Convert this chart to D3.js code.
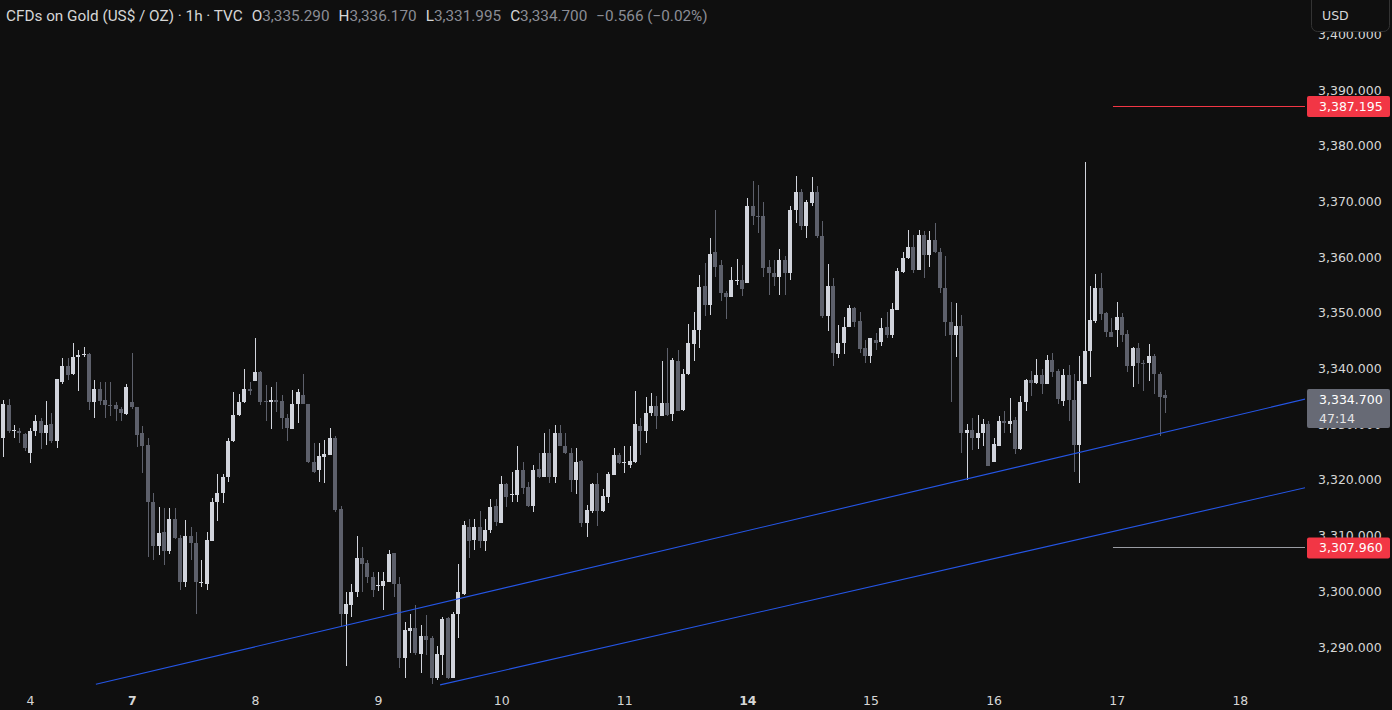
<!DOCTYPE html>
<html><head><meta charset="utf-8">
<script src="https://cdn.jsdelivr.net/npm/d3@7"></script>
<style>html,body{margin:0;padding:0;background:#0f0f0f;overflow:hidden}</style>
</head><body><svg id="c" width="1392" height="710"></svg>
<script>
// ---- data (hourly bars) ----
const opens = [3327.6,3333.4,3328.7,3328.7,3328.2,3324.9,3328.7,3330.6,3328.5,3330.0,3326.9,3337.5,3340.4,3339.0,3342.0,3342.4,3342.6,3334.0,3336.4,3334.3,3333.4,3333.4,3332.8,3331.9,3334.0,3333.0,3328.4,3326.3,3316.1,3308.1,3310.6,3307.3,3313.0,3309.5,3301.7,3309.9,3308.6,3301.6,3301.3,3309.1,3316.0,3317.6,3320.5,3327.0,3331.7,3333.9,3336.4,3337.8,3339.4,3334.2,3334.0,3334.3,3334.2,3331.1,3329.1,3333.6,3335.2,3333.6,3323.3,3321.7,3324.1,3324.5,3327.6,3314.7,3295.9,3297.6,3299.8,3305.9,3305.0,3302.5,3301.0,3301.0,3301.6,3306.8,3301.4,3288.1,3292.8,3293.5,3288.7,3292.0,3291.6,3284.5,3288.6,3295.2,3284.5,3295.9,3299.6,3311.6,3309.2,3311.5,3309.1,3311.0,3315.3,3312.3,3319.3,3317.3,3317.3,3321.8,3318.7,3315.3,3321.9,3320.6,3324.9,3320.6,3328.4,3326.1,3324.9,3319.9,3323.4,3312.3,3314.5,3319.3,3314.5,3317.0,3320.9,3324.5,3323.0,3322.7,3323.3,3329.7,3328.8,3332.1,3333.3,3331.5,3333.8,3331.9,3341.4,3332.5,3339.0,3344.4,3346.9,3354.8,3351.4,3361.0,3358.6,3353.6,3352.9,3355.8,3355.9,3355.4,3369.1,3367.3,3367.3,3358.3,3357.2,3356.5,3359.4,3357.2,3368.4,3371.6,3365.5,3369.8,3371.7,3363.8,3349.4,3354.8,3342.6,3344.6,3347.4,3350.8,3348.6,3343.6,3342.3,3345.2,3344.8,3347.4,3346.0,3350.5,3357.4,3359.8,3361.8,3357.7,3364.0,3360.4,3363.0,3361.0,3354.4,3348.4,3346.1,3347.6,3328.5,3329.0,3327.6,3328.4,3330.0,3323.3,3326.1,3330.6,3330.0,3330.8,3325.5,3333.9,3337.9,3337.4,3338.8,3337.2,3341.6,3339.6,3334.2,3338.8,3334.3,3326.3,3337.3,3343.2,3348.6,3354.4,3349.9,3346.6,3346.9,3349.2,3346.2,3340.4,3343.6,3341.0,3340.9,3342.3,3339.0,3335.29];
const highs = [3334.3,3334.5,3329.9,3329.3,3328.4,3329.3,3331.7,3331.1,3334.2,3332.1,3338.2,3341.8,3341.9,3344.6,3343.3,3343.8,3342.8,3337.9,3337.6,3337.6,3337.6,3334.0,3333.1,3337.2,3342.7,3333.1,3329.6,3327.5,3317.6,3315.2,3314.9,3314.9,3314.9,3310.1,3312.8,3311.6,3310.7,3305.6,3310.7,3316.7,3321.1,3321.1,3327.6,3335.7,3335.5,3340.0,3337.6,3345.4,3339.6,3337.0,3336.6,3337.6,3335.2,3331.9,3336.1,3336.3,3339.1,3333.7,3326.6,3326.7,3327.2,3329.4,3327.9,3315.3,3299.8,3301.3,3310.0,3307.9,3305.7,3303.5,3303.5,3303.5,3307.5,3306.9,3302.6,3294.5,3296.0,3297.5,3294.0,3295.7,3291.9,3290.2,3295.4,3295.4,3296.2,3304.9,3312.6,3312.9,3312.9,3314.5,3312.9,3316.5,3316.5,3320.7,3319.5,3321.5,3326.1,3323.3,3319.7,3322.7,3324.8,3328.4,3329.1,3329.9,3329.9,3328.4,3325.7,3325.7,3323.5,3315.5,3319.4,3321.2,3318.3,3321.5,3325.7,3324.9,3326.1,3326.1,3335.9,3331.1,3334.8,3335.6,3335.1,3341.4,3343.6,3341.8,3343.4,3339.9,3348.0,3350.2,3356.8,3359.0,3363.4,3368.5,3359.5,3354.0,3358.2,3359.6,3358.6,3370.7,3373.7,3373.0,3369.9,3359.4,3359.5,3361.4,3360.2,3369.2,3374.6,3372.2,3370.3,3374.4,3372.8,3366.4,3358.8,3356.2,3347.8,3349.3,3351.4,3351.1,3350.2,3345.2,3345.4,3346.3,3349.0,3350.2,3351.7,3358.0,3361.0,3364.8,3364.0,3364.8,3364.6,3364.6,3366.2,3361.6,3360.2,3352.0,3351.8,3349.6,3330.0,3331.2,3331.7,3330.9,3330.6,3327.5,3331.5,3332.4,3334.7,3331.3,3335.0,3338.2,3339.6,3341.7,3339.9,3342.4,3342.7,3339.9,3339.9,3340.6,3339.0,3342.3,3377.1,3354.8,3357.0,3357.2,3350.2,3349.0,3351.9,3349.9,3347.0,3343.9,3344.6,3341.5,3344.4,3342.6,3339.3,3336.17];
const lows = [3324.2,3328.4,3327.5,3326.6,3325.1,3323.1,3327.8,3325.5,3326.3,3326.6,3325.7,3337.3,3337.9,3338.8,3336.0,3342.1,3332.5,3331.1,3333.4,3331.1,3331.4,3330.5,3330.5,3331.6,3332.8,3325.9,3321.3,3306.2,3305.6,3306.5,3304.7,3306.7,3309.3,3300.2,3300.8,3305.6,3296.0,3300.8,3300.2,3309.0,3312.7,3315.8,3319.7,3326.8,3331.5,3333.8,3335.2,3337.7,3333.4,3330.6,3329.1,3332.2,3329.1,3326.9,3329.1,3330.2,3333.6,3323.0,3321.2,3319.7,3319.5,3324.4,3314.3,3293.8,3286.5,3295.4,3298.9,3299.9,3301.5,3298.9,3300.0,3296.6,3301.6,3298.9,3286.2,3284.4,3288.9,3288.6,3285.3,3288.6,3283.4,3284.1,3285.0,3284.2,3284.4,3291.6,3299.3,3305.9,3307.4,3307.7,3307.3,3310.4,3311.7,3312.3,3315.1,3316.1,3316.1,3317.5,3315.1,3314.3,3320.3,3320.5,3319.5,3319.5,3326.0,3324.6,3317.9,3317.5,3311.5,3309.7,3314.0,3311.7,3314.3,3315.9,3320.9,3322.9,3321.3,3322.1,3323.1,3324.5,3326.7,3331.5,3329.1,3331.4,3331.5,3330.6,3332.4,3332.4,3338.9,3341.4,3343.6,3349.4,3349.6,3356.4,3352.2,3348.8,3352.8,3355.0,3353.0,3355.3,3365.8,3364.3,3356.5,3353.2,3354.8,3353.2,3353.2,3355.9,3366.2,3364.9,3363.4,3369.2,3363.4,3349.0,3346.8,3340.5,3341.8,3342.6,3347.4,3347.5,3342.7,3340.9,3340.9,3343.3,3344.0,3345.4,3345.4,3350.5,3357.2,3359.6,3357.2,3357.7,3356.2,3358.2,3360.8,3353.6,3345.8,3333.9,3342.0,3324.9,3320.0,3325.4,3325.5,3326.1,3322.5,3323.3,3326.1,3328.5,3328.5,3324.7,3325.4,3332.4,3335.1,3337.3,3335.4,3337.2,3338.4,3333.6,3333.3,3330.5,3321.5,3319.4,3337.3,3338.5,3348.2,3348.7,3345.6,3345.6,3343.9,3344.8,3339.3,3336.7,3337.3,3335.9,3337.8,3335.5,3327.9,3331.995];
const closes = [3333.6,3328.7,3328.9,3328.4,3325.7,3328.8,3330.6,3328.4,3329.9,3326.9,3338.1,3340.4,3338.8,3342.0,3342.4,3342.6,3334.0,3336.4,3334.2,3333.4,3333.3,3332.7,3332.1,3336.6,3333.0,3328.1,3326.0,3316.1,3308.1,3310.4,3307.3,3313.0,3309.5,3301.7,3309.9,3308.6,3301.6,3301.7,3309.2,3316.0,3317.6,3320.5,3327.0,3331.7,3333.9,3336.4,3336.0,3339.4,3333.9,3333.9,3334.3,3334.0,3331.1,3329.3,3333.6,3335.7,3333.6,3323.3,3321.5,3324.3,3324.6,3327.6,3314.6,3295.9,3297.7,3299.8,3305.9,3304.9,3302.5,3300.2,3301.2,3301.8,3306.7,3301.4,3288.1,3293.1,3293.5,3289.0,3292.0,3291.3,3284.5,3288.7,3295.0,3284.5,3296.0,3299.8,3311.9,3309.1,3311.5,3309.1,3311.0,3315.1,3312.5,3319.3,3316.9,3317.5,3321.8,3318.5,3315.3,3321.8,3320.6,3324.9,3320.6,3328.4,3326.1,3324.8,3320.0,3323.3,3312.3,3314.6,3319.3,3314.5,3317.1,3321.1,3324.5,3323.0,3323.2,3323.4,3330.0,3328.8,3332.1,3333.2,3331.5,3333.8,3331.7,3341.5,3332.4,3339.0,3344.6,3347.0,3354.7,3351.4,3360.6,3358.3,3353.5,3352.8,3355.8,3355.9,3354.3,3369.1,3367.3,3367.2,3358.1,3357.1,3356.5,3359.4,3357.2,3368.5,3371.7,3365.5,3369.9,3371.7,3363.8,3349.4,3354.8,3342.7,3344.6,3347.5,3350.8,3348.4,3343.5,3342.3,3345.4,3344.6,3347.2,3346.0,3350.6,3357.5,3359.8,3361.8,3357.6,3364.0,3360.4,3363.1,3361.0,3354.4,3348.4,3346.1,3347.6,3328.5,3329.0,3327.6,3328.4,3330.0,3322.5,3326.5,3330.6,3330.2,3330.6,3325.5,3333.9,3337.9,3337.4,3338.8,3337.2,3341.6,3339.4,3334.5,3338.8,3334.3,3326.3,3337.8,3343.2,3348.7,3354.4,3349.8,3346.6,3345.6,3349.3,3346.0,3340.5,3343.6,3340.9,3340.8,3342.3,3339.1,3334.8,3334.70];

const dayLabels = ["4","7","8","9","10","11","14","15","16","17","18"];
const dayBars   = [5,24,47,70,93,116,139,162,185,208,231];
const boldDays  = ["7","14"];
const priceTicks = [3290,3300,3310,3320,3330,3340,3350,3360,3370,3380,3390,3400];

// trend lines: [barIndex, price] anchors
const upperTrend = [[17.3,3283.3],[243.2,3334.5]];
const lowerTrend = [[81.6,3283.2],[243.2,3318.6]];
// horizontal levels from bar 207.3 to the scale
const levels = [{price:3387.195, color:"#f23645", label:"3,387.195"},
                {price:3307.960, color:"#9a9ca3", label:"3,307.960"}];
const lastPrice = 3334.70, countdown = "47:14";
const header = {name:"CFDs on Gold (US$ / OZ) · 1h · TVC", O:"3,335.290", H:"3,336.170", L:"3,331.995", C:"3,334.700", chg:"−0.566 (−0.02%)"};

// ---- drawing ----
const svg = d3.select("#c");
const W = 1392, H = 710, plotRight = 1305, plotBottom = 688;
const UP = "#d1d4dc", DOWN = "#5d606b", TXT = "#d6d6d6";
svg.append("rect").attr("width",W).attr("height",H).attr("fill","#0f0f0f");

const x = d3.scaleLinear().domain([0,217]).range([3.3, 3.3+217*5.353]);
const y = d3.scaleLinear().domain([3290,3390]).range([647,90]);

const bars = opens.map((o,i)=>({i,o,h:highs[i],l:lows[i],c:closes[i]}));
const plot = svg.append("g");
plot.append("defs").append("clipPath").attr("id","pc").append("rect")
  .attr("x",0).attr("y",0).attr("width",plotRight).attr("height",plotBottom);
const pg = plot.append("g").attr("clip-path","url(#pc)");

const cg = pg.selectAll("g.k").data(bars).join("g")
  .attr("fill", d=>d.c>=d.o?UP:DOWN).attr("shape-rendering","crispEdges");
cg.append("rect").attr("x",d=>Math.round(x(d.i))).attr("width",1)
  .attr("y",d=>y(d.h)).attr("height",d=>Math.max(1,y(d.l)-y(d.h)));
cg.append("rect").attr("x",d=>Math.round(x(d.i))-2).attr("width",4)
  .attr("y",d=>y(Math.max(d.o,d.c))).attr("height",d=>Math.max(1,Math.abs(y(d.o)-y(d.c))));

const line = d3.line().x(d=>x(d[0])).y(d=>y(d[1]));
[upperTrend,lowerTrend].forEach(t=>{
  pg.append("path").attr("d",line(t)).attr("stroke","#2556e6").attr("stroke-width",1.1).attr("fill","none");
});
levels.forEach(l=>{
  pg.append("line").attr("x1",x(207.3)).attr("x2",plotRight).attr("y1",Math.round(y(l.price))+0.5).attr("y2",Math.round(y(l.price))+0.5)
    .attr("stroke",l.color).attr("stroke-width",1);
});

// price axis
const font = "DejaVu Sans, sans-serif";
const yAxis = d3.axisRight(y).tickValues(priceTicks).tickFormat(d3.format(",.3f")).tickSize(0).tickPadding(13);
const ya = svg.append("g").attr("transform",`translate(${plotRight},0)`).call(yAxis);
ya.select(".domain").remove();
ya.selectAll("text").attr("fill",TXT).attr("font-family",font).attr("font-size",12.5);

// time axis
const xAxis = d3.axisBottom(x).tickValues(dayBars).tickFormat((d,i)=>dayLabels[i]).tickSize(0).tickPadding(8);
const xa = svg.append("g").attr("transform",`translate(0,${plotBottom})`).call(xAxis);
xa.select(".domain").remove();
xa.selectAll("text").attr("fill",TXT).attr("font-family",font).attr("font-size",12.5)
  .attr("font-weight",(d,i)=>boldDays.includes(dayLabels[i])?"bold":"normal");

// labels on the price scale
levels.forEach(l=>{
  const yy = y(l.price);
  svg.append("rect").attr("x",1307).attr("y",yy-9.5).attr("width",83).attr("height",21).attr("rx",2).attr("fill","#f23645");
  svg.append("text").attr("x",1319).attr("y",yy+5.5).attr("fill","#ffffff").attr("font-family",font).attr("font-size",12.5).text(l.label);
});
const ly = y(lastPrice);
svg.append("rect").attr("x",1307).attr("y",ly-9).attr("width",83).attr("height",39).attr("rx",2).attr("fill","#676a75");
svg.append("text").attr("x",1319).attr("y",ly+5.5).attr("fill","#ffffff").attr("font-family",font).attr("font-size",12.5).text(d3.format(",.3f")(lastPrice));
svg.append("text").attr("x",1319).attr("y",ly+25).attr("fill","#e6e6e6").attr("font-family",font).attr("font-size",12.5).text(countdown);

// USD button (covers the top of the 3,400 label as in the reference)
svg.append("rect").attr("x",1311.5).attr("y",-8).attr("width",78).attr("height",39.5).attr("rx",6).attr("fill","#0f0f0f").attr("stroke","#333");
svg.append("text").attr("x",1322).attr("y",20).attr("fill",TXT).attr("font-family",font).attr("font-size",12.5).text("USD");

// header
const VAL = "#8b8d95";
const ht = svg.append("text").attr("x",6).attr("y",20.5).attr("font-family","Roboto, sans-serif").attr("font-size",15.3);
ht.append("tspan").attr("fill",TXT).text(header.name);
[["O",header.O],["H",header.H],["L",header.L],["C",header.C]].forEach(([k,v])=>{
  ht.append("tspan").attr("fill",TXT).attr("dx",9).text(k);
  ht.append("tspan").attr("fill",VAL).text(v);
});
ht.append("tspan").attr("fill",VAL).attr("dx",9).text(header.chg);
</script></body></html>
